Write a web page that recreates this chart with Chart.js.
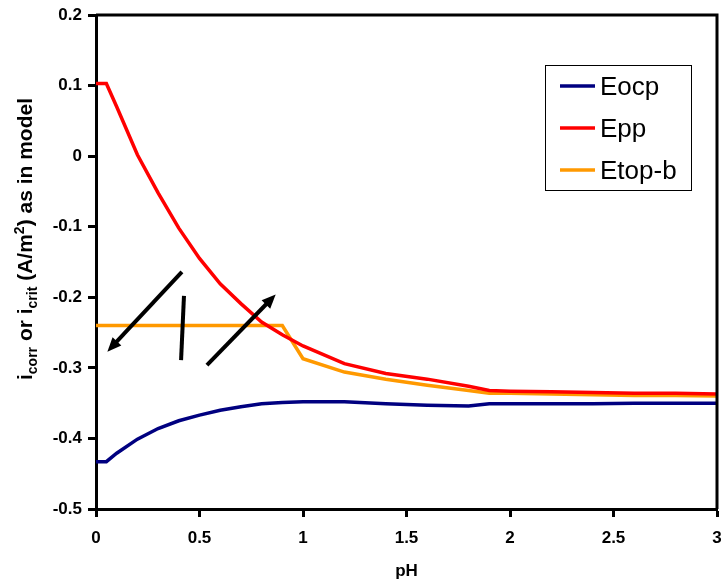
<!DOCTYPE html>
<html>
<head>
<meta charset="utf-8">
<script src="https://cdn.jsdelivr.net/npm/chart.js@4.4.1/dist/chart.umd.min.js"></script>
<style>
  html, body { margin: 0; padding: 0; background: #fff; }
</style>
</head>
<body>
<canvas id="myChart" width="721" height="583"></canvas>
<script>
// pH values shared by Eocp and Epp
const phValues = [0, 0.05, 0.1, 0.2, 0.3, 0.4, 0.5, 0.6, 0.7, 0.8, 0.9, 1.0,
                  1.2, 1.4, 1.6, 1.8, 1.9, 2.0, 2.2, 2.4, 2.6, 2.8, 3.0];
const eocpValues = [-0.433, -0.433, -0.421, -0.401, -0.386, -0.375, -0.367, -0.360, -0.355, -0.351, -0.349, -0.348,
                    -0.348, -0.351, -0.353, -0.354, -0.351, -0.351, -0.351, -0.351, -0.350, -0.350, -0.350];
const eppValues = [0.103, 0.103, 0.070, 0.002, -0.052, -0.102, -0.145, -0.181, -0.209, -0.235, -0.253, -0.269,
                   -0.294, -0.308, -0.316, -0.326, -0.332, -0.333, -0.334, -0.335, -0.336, -0.336, -0.337];

// Etop-b is flat up to pH 0.9
const etopPh = [0, 0.9, 1.0, 1.2, 1.4, 1.6, 1.8, 1.9, 2.0, 2.2, 2.4, 2.6, 2.8, 3.0];
const etopValues = [-0.24, -0.24, -0.287, -0.306, -0.316, -0.3245, -0.332, -0.336, -0.336, -0.337, -0.338, -0.339, -0.339, -0.340];

const seriesNames = ['Eocp', 'Epp', 'Etop-b'];
const seriesColors = ['#000080', '#ff0000', '#ff9900'];
const xTicks = [0, 0.5, 1, 1.5, 2, 2.5, 3];

// annotation strokes in (pH, i) units: [x1, y1, x2, y2, arrowhead at end?]
const annotations = [
    [0.415, -0.164, 0.055, -0.277, true],
    [0.425, -0.198, 0.411, -0.289, false],
    [0.536, -0.296, 0.868, -0.196, true]
];

const FONT = "'Liberation Sans', Arial, sans-serif";

function pairs(xs, ys) {
    return xs.map((x, i) => ({ x: x, y: ys[i] }));
}

const frame = {
    id: 'frame',
    afterDatasetsDraw(chart) {
        const a = chart.chartArea;
        const ctx = chart.ctx;
        ctx.save();
        ctx.strokeStyle = '#000';
        ctx.lineWidth = 3;
        ctx.beginPath();
        ctx.moveTo(a.left, a.top);
        ctx.lineTo(a.right, a.top);
        ctx.lineTo(a.right, a.bottom);
        ctx.stroke();
        ctx.restore();
    }
};

const arrows = {
    id: 'arrows',
    afterDatasetsDraw(chart) {
        const xs = chart.scales.x, ys = chart.scales.y;
        const ctx = chart.ctx;
        ctx.save();
        ctx.strokeStyle = '#000';
        ctx.fillStyle = '#000';
        ctx.lineWidth = 4;
        annotations.forEach(([x1, y1, x2, y2, head]) => {
            const px1 = xs.getPixelForValue(x1), py1 = ys.getPixelForValue(y1);
            const px2 = xs.getPixelForValue(x2), py2 = ys.getPixelForValue(y2);
            const ang = Math.atan2(py2 - py1, px2 - px1);
            const hl = head ? 14 : 0;
            ctx.beginPath();
            ctx.moveTo(px1, py1);
            ctx.lineTo(px2 - Math.cos(ang) * hl * 0.7, py2 - Math.sin(ang) * hl * 0.7);
            ctx.stroke();
            if (head) {
                ctx.beginPath();
                ctx.moveTo(px2, py2);
                ctx.lineTo(px2 - Math.cos(ang) * hl + Math.sin(ang) * 6, py2 - Math.sin(ang) * hl - Math.cos(ang) * 6);
                ctx.lineTo(px2 - Math.cos(ang) * hl - Math.sin(ang) * 6, py2 - Math.sin(ang) * hl + Math.cos(ang) * 6);
                ctx.closePath();
                ctx.fill();
            }
        });
        ctx.restore();
    }
};

const boxLegend = {
    id: 'boxLegend',
    afterDraw(chart) {
        const ctx = chart.ctx;
        ctx.save();
        ctx.fillStyle = '#fff';
        ctx.fillRect(545, 65, 146, 125);
        ctx.strokeStyle = '#000';
        ctx.lineWidth = 1;
        ctx.strokeRect(545.5, 65.5, 146, 125);
        ctx.font = '26px ' + FONT;
        ctx.textBaseline = 'middle';
        chart.data.datasets.forEach((ds, i) => {
            const y = 86 + i * 42;
            ctx.strokeStyle = ds.borderColor;
            ctx.lineWidth = 3.5;
            ctx.beginPath();
            ctx.moveTo(560, y);
            ctx.lineTo(595, y);
            ctx.stroke();
            ctx.fillStyle = '#000';
            ctx.fillText(ds.label, 600, y + 2);
        });
        ctx.restore();
    }
};

// y axis title with sub/superscripts
const yTitle = {
    id: 'yTitle',
    afterDraw(chart) {
        const ctx = chart.ctx;
        const size = 21;
        const parts = [
            { t: 'i' }, { t: 'corr', sub: true }, { t: ' or ' },
            { t: 'i' }, { t: 'crit', sub: true }, { t: ' (A/m' },
            { t: '2', sup: true }, { t: ') as in model' }
        ];
        const fontFor = p => 'bold ' + ((p.sub || p.sup) ? Math.round(size * 0.65) : size) + 'px ' + FONT;
        let total = 0;
        parts.forEach(p => { ctx.font = fontFor(p); p.w = ctx.measureText(p.t).width; total += p.w; });
        ctx.save();
        ctx.translate(32, 239);
        ctx.rotate(-Math.PI / 2);
        ctx.fillStyle = '#000';
        ctx.textBaseline = 'alphabetic';
        let x = -total / 2;
        parts.forEach(p => {
            ctx.font = fontFor(p);
            const dy = p.sub ? size * 0.22 : (p.sup ? -size * 0.4 : 0);
            ctx.fillText(p.t, x, dy);
            x += p.w;
        });
        ctx.restore();
    }
};

const ctx = document.getElementById('myChart').getContext('2d');
const myChart = new Chart(ctx, {
    type: 'line',
    data: {
        datasets: [
            { label: seriesNames[0], data: pairs(phValues, eocpValues), borderColor: seriesColors[0] },
            { label: seriesNames[1], data: pairs(phValues, eppValues), borderColor: seriesColors[1] },
            { label: seriesNames[2], data: pairs(etopPh, etopValues), borderColor: seriesColors[2] }
        ].map(ds => Object.assign(ds, {
            borderWidth: 3.5,
            pointRadius: 0,
            tension: 0,
            fill: false
        }))
    },
    options: {
        responsive: false,
        animation: false,
        devicePixelRatio: 1,
        layout: { padding: { top: 15, right: 4, left: 0, bottom: 0 } },
        plugins: {
            legend: { display: false },
            tooltip: { enabled: false }
        },
        scales: {
            x: {
                type: 'linear',
                min: 0,
                max: 3,
                afterFit: s => { s.height = 74; s.paddingLeft = 0; s.paddingRight = 0; },
                afterBuildTicks: s => { s.ticks = xTicks.map(v => ({ value: v })); },
                ticks: {
                    color: '#000',
                    padding: 11,
                    maxRotation: 0,
                    font: { family: FONT, size: 17, weight: 'bold' },
                    callback: v => String(v)
                },
                grid: { drawOnChartArea: false, drawTicks: true, tickLength: 8, tickWidth: 3, color: '#000' },
                border: { color: '#000', width: 3 },
                title: {
                    display: true,
                    text: 'pH',
                    color: '#000',
                    padding: { top: 0, bottom: 1 },
                    font: { family: FONT, size: 17, weight: 'bold' }
                }
            },
            y: {
                min: -0.5,
                max: 0.2,
                afterFit: s => { s.width = 96; s.paddingTop = 0; s.paddingBottom = 0; },
                ticks: {
                    stepSize: 0.1,
                    color: '#000',
                    padding: 6,
                    font: { family: FONT, size: 17, weight: 'bold' },
                    callback: v => String(Math.round(v * 10) / 10)
                },
                grid: { drawOnChartArea: false, drawTicks: true, tickLength: 8, tickWidth: 3, color: '#000' },
                border: { color: '#000', width: 3 }
            }
        }
    },
    plugins: [frame, arrows, boxLegend, yTitle]
});
</script>
</body>
</html>
